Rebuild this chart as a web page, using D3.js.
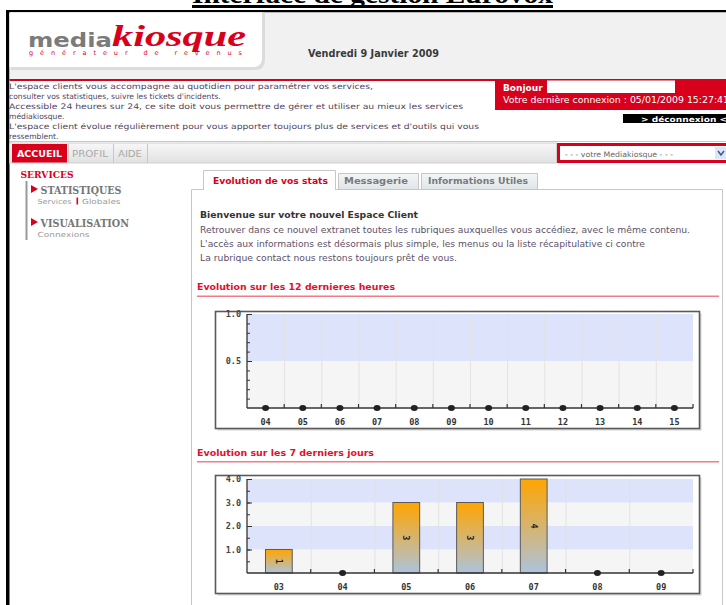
<!DOCTYPE html>
<html>
<head>
<meta charset="utf-8">
<script src="https://cdn.jsdelivr.net/npm/d3@7"></script>
<style>
  body { margin: 0; background: #fff; }
  svg { display: block; }
</style>
</head>
<body>
<script>
// données des graphiques
var hourLabels = ["04","05","06","07","08","09","10","11","12","13","14","15"];
var hourValues = [0,0,0,0,0,0,0,0,0,0,0,0];
var hourTicks = [0.5, 1.0];
var hourMinor = [0.1,0.2,0.3,0.4,0.5,0.6,0.7,0.8,0.9,1.0];

var dayLabels = ["03","04","05","06","07","08","09"];
var dayValues = [1,0,3,3,4,0,0];
var dayTicks = [1,2,3,4];
var dayMinor = [0.5,1,1.5,2,2.5,3,3.5,4];

var introLines = [
  "L'espace clients vous accompagne au quotidien pour paramétrer vos services,",
  "consulter vos statistiques, suivre les tickets d'incidents.",
  "Accessible 24 heures sur 24, ce site doit vous permettre de gérer et utiliser au mieux les services",
  "médiakiosque.",
  "L'espace client évolue régulièrement pour vous apporter toujours plus de services et d'outils qui vous",
  "ressemblent."
];
var welcomeLines = [
  "Retrouver dans ce nouvel extranet toutes les rubriques auxquelles vous accédiez, avec le même contenu.",
  "L'accès aux informations est désormais plus simple, les menus ou la liste récapitulative ci contre",
  "La rubrique contact nous restons toujours prêt de vous."
];

var width = 726, height = 605;
var RED = "#d9001b";
var FONT = "'DejaVu Sans', Verdana, sans-serif";

var svg = d3.select("body").append("svg")
  .attr("width", width)
  .attr("height", height);

var defs = svg.append("defs");
var gHead = defs.append("linearGradient").attr("id", "navgrad").attr("x1",0).attr("y1",0).attr("x2",0).attr("y2",1);
gHead.append("stop").attr("offset","0%").attr("stop-color","#f7f7f7");
gHead.append("stop").attr("offset","100%").attr("stop-color","#e1e1e1");
var gTab = defs.append("linearGradient").attr("id", "tabgrad").attr("x1",0).attr("y1",0).attr("x2",0).attr("y2",1);
gTab.append("stop").attr("offset","0%").attr("stop-color","#f4f6f7");
gTab.append("stop").attr("offset","100%").attr("stop-color","#dfe5e8");
var gBar = defs.append("linearGradient").attr("id", "bargrad").attr("x1",0).attr("y1",0).attr("x2",0).attr("y2",1);
gBar.append("stop").attr("offset","0%").attr("stop-color","#ffa500");
gBar.append("stop").attr("offset","100%").attr("stop-color","#adc3dc");

function txt(x, y, s, size, opts){
  opts = opts || {};
  var t = svg.append("text")
    .attr("x", x).attr("y", y)
    .attr("font-family", opts.family || FONT)
    .attr("font-size", size)
    .attr("font-weight", opts.bold ? "bold" : "normal")
    .attr("fill", opts.fill || "#333")
    .text(s);
  if (opts.w) t.attr("textLength", opts.w).attr("lengthAdjust", "spacingAndGlyphs");
  if (opts.italic) t.attr("font-style", "italic");
  return t;
}

// titre du document (coupé en haut)
txt(372.5, 3, "Interface de gestion Eurovox", 25, {bold:true, fill:"#000", family:"'Liberation Serif', serif", w:361})
  .attr("text-anchor","middle");
svg.append("rect").attr("x",192).attr("y",5).attr("width",361).attr("height",3).attr("fill","#000");

// cadre
svg.append("rect").attr("x",6).attr("y",10).attr("width",720).attr("height",2.5).attr("fill","#000");
svg.append("rect").attr("x",6).attr("y",10).attr("width",3.5).attr("height",595).attr("fill","#000");

// en-tête
svg.append("rect").attr("x",9.5).attr("y",12.5).attr("width",717).attr("height",67).attr("fill","#f1f1f1");
svg.append("path").attr("d","M11,12.5 H265 V60 Q265,70 255,70 H11 Z").attr("fill","#dcdcdc");
svg.append("path").attr("d","M9.5,12.5 H262 V58 Q262,67 253,67 H9.5 Z").attr("fill","#fff");
txt(28, 46.5, "media", 20, {bold:true, fill:"#7b7b7b", w:84});
txt(112, 46, "kiosque", 29, {bold:true, italic:true, fill:RED, family:"'Liberation Serif', serif", w:134});
txt(29, 55, "générateur de revenus", 6.5, {fill:RED, w:213}).attr("lengthAdjust","spacing");
txt(308, 57, "Vendredi 9 Janvier 2009", 10, {bold:true, fill:"#3a3a3a", w:131});

// bandeau d'intro
svg.append("rect").attr("x",9.5).attr("y",79.5).attr("width",717).attr("height",62).attr("fill","#fff");
svg.append("rect").attr("x",9.5).attr("y",79).attr("width",486).attr("height",2).attr("fill",RED);
svg.append("rect").attr("x",9.5).attr("y",141).attr("width",717).attr("height",1).attr("fill","#c8c8c8");
var introW = [364, 0, 454, 0, 470, 0];
introLines.forEach(function(l, i){
  txt(9, 89 + i*10, l, 7.6, {fill:"#4f4560", w: introW[i] || null});
});

// boîte rouge connexion
svg.append("rect").attr("x",495).attr("y",79).attr("width",231).attr("height",31).attr("fill",RED);
txt(503, 91, "Bonjour", 9, {bold:true, fill:"#fff"});
svg.append("rect").attr("x",547).attr("y",80.5).attr("width",128).attr("height",12.5).attr("fill","#fff");
txt(503, 103, "Votre dernière connexion : 05/01/2009 15:27:41", 8, {fill:"#fff", w:226});
svg.append("rect").attr("x",623).attr("y",114).attr("width",103).attr("height",9).attr("fill","#000");
txt(641, 121.5, "> déconnexion <", 7.5, {bold:true, fill:"#fff", w:86});

// barre de navigation
svg.append("rect").attr("x",9.5).attr("y",143).attr("width",547).attr("height",20).attr("fill","url(#navgrad)").attr("stroke","#cfcfcf");
svg.append("rect").attr("x",12).attr("y",144).attr("width",55).attr("height",18.5).attr("fill",RED);
txt(17, 157, "ACCUEIL", 9, {bold:true, fill:"#fff", w:45});
txt(72, 157, "PROFIL", 9, {fill:"#a8a8a8", w:36});
txt(118, 157, "AIDE", 9, {fill:"#a8a8a8", w:24});
[68.5, 113.5, 147.5].forEach(function(x){
  svg.append("line").attr("x1",x).attr("x2",x).attr("y1",144).attr("y2",163).attr("stroke","#c8c8c8");
});
svg.append("rect").attr("x",558.5).attr("y",144.5).attr("width",170).attr("height",17).attr("fill","#fff").attr("stroke",RED).attr("stroke-width",3);
txt(565, 157, "- - - votre Mediakiosque - - -", 7.5, {fill:"#666", w:108});
svg.append("rect").attr("x",715).attr("y",147).attr("width",11).attr("height",12).attr("fill","#dfe6f3");
svg.append("path").attr("d","M718,151 L721,155 L724,151").attr("fill","none").attr("stroke","#3a5a9a").attr("stroke-width",1.5);

// menu latéral
txt(20.5, 178, "SERVICES", 10, {bold:true, fill:RED, family:"'DejaVu Serif', serif", w:53});
svg.append("rect").attr("x",25.5).attr("y",181).attr("width",2).attr("height",59).attr("fill","#9a9a9a");
svg.append("path").attr("d","M31,185 L38,189 L31,193 Z").attr("fill",RED);
txt(40.5, 194, "STATISTIQUES", 11, {bold:true, fill:"#777", family:"'DejaVu Serif', serif", w:81});
txt(37.5, 204, "Services", 7, {fill:"#9a9a9a", w:34});
svg.append("rect").attr("x",76.5).attr("y",197.5).attr("width",1.6).attr("height",7).attr("fill",RED);
txt(82, 204, "Globales", 7, {fill:"#9a9a9a", w:38.5});
svg.append("path").attr("d","M31,218 L38,222 L31,226 Z").attr("fill",RED);
txt(40.5, 227, "VISUALISATION", 11, {bold:true, fill:"#777", family:"'DejaVu Serif', serif", w:88.5});
txt(37.5, 236.5, "Connexions", 7, {fill:"#9a9a9a", w:52});

// panneau à onglets
var panel = svg.append("g").attr("stroke","#c6c6c6").attr("fill","none");
panel.append("path").attr("d","M191.5,605 V189.5 H203.5 M335.5,189.5 H722.5 V605");
svg.append("path").attr("d","M338.5,189.5 V173.5 H418.5 V189.5 Z").attr("fill","url(#tabgrad)").attr("stroke","#c6c6c6");
svg.append("path").attr("d","M421.5,189.5 V173.5 H537.5 V189.5 Z").attr("fill","url(#tabgrad)").attr("stroke","#c6c6c6");
svg.append("path").attr("d","M203.5,190 V170.5 H335.5 V190").attr("fill","#fff").attr("stroke","#c6c6c6");
txt(213, 184, "Evolution de vos stats", 9, {bold:true, fill:RED, w:115});
txt(344, 184, "Messagerie", 9, {bold:true, fill:"#7a7a7a", w:64});
txt(428, 184, "Informations Utiles", 9, {bold:true, fill:"#7a7a7a", w:100});

txt(200, 218, "Bienvenue sur votre nouvel Espace Client", 8.6, {bold:true, fill:"#333", w:218});
var welcomeW = [490, 445, 257];
welcomeLines.forEach(function(l, i){
  txt(200, 233 + i*14, l, 8.6, {fill:"#5d5169", w:welcomeW[i]});
});

function heading(y, s, w){
  txt(197, y, s, 8.8, {bold:true, fill:"#e3102c", w:w});
  svg.append("rect").attr("x",197).attr("y",y+5.5).attr("width",522).attr("height",1.5).attr("fill","#f37a86");
}
heading(290, "Evolution sur les 12 dernieres heures", 198);
heading(455.5, "Evolution sur les 7 derniers jours", 177);

// graphiques
function drawChart(cfg){
  var g = svg.append("g");
  g.append("rect").attr("x",cfg.box[0]+2).attr("y",cfg.box[1]+2).attr("width",cfg.box[2]).attr("height",cfg.box[3]).attr("fill","#d4d4d4");
  g.append("rect").attr("x",cfg.box[0]).attr("y",cfg.box[1]).attr("width",cfg.box[2]).attr("height",cfg.box[3])
    .attr("fill","#fff").attr("stroke","#5a5a5a").attr("stroke-width",1.6);

  var x = d3.scaleBand().domain(cfg.labels).range([cfg.left, cfg.right]).padding(0);
  var y = d3.scaleLinear().domain([0, cfg.max]).range([cfg.bottom, cfg.top]);

  // bandes alternées
  var edges = [0].concat(cfg.ticks);
  for (var i = 0; i < edges.length - 1; i++){
    g.append("rect")
      .attr("x", cfg.left).attr("width", cfg.right - cfg.left)
      .attr("y", y(edges[i+1])).attr("height", y(edges[i]) - y(edges[i+1]))
      .attr("fill", i % 2 === 0 ? "#f5f5f5" : "#dce3fb");
  }
  // grille verticale
  g.selectAll(".vg").data(cfg.labels.slice(1)).enter().append("line")
    .attr("x1", function(d){ return x(d) + 0.5; })
    .attr("x2", function(d){ return x(d) + 0.5; })
    .attr("y1", cfg.top).attr("y2", cfg.bottom)
    .attr("stroke", "#e2e2e2");

  // barres
  var idx = cfg.labels.map(function(d, i){ return i; });
  var bw = x.bandwidth() * 0.42;
  var bars = idx.filter(function(i){ return cfg.values[i] > 0; });
  g.selectAll(".bar").data(bars).enter().append("rect")
    .attr("x", function(i){ return x(cfg.labels[i]) + (x.bandwidth() - bw) / 2; })
    .attr("y", function(i){ return y(cfg.values[i]); })
    .attr("width", bw)
    .attr("height", function(i){ return y(0) - y(cfg.values[i]); })
    .attr("fill", "url(#bargrad)")
    .attr("stroke", "#5a5a5a").attr("stroke-width", 1);
  g.selectAll(".vl").data(bars).enter().append("text")
    .attr("transform", function(i){
      var cx = x(cfg.labels[i]) + x.bandwidth() / 2;
      var cy = (y(cfg.values[i]) + y(0)) / 2;
      return "translate(" + cx + "," + cy + ") rotate(90)";
    })
    .attr("text-anchor", "middle").attr("dy", "0.35em")
    .attr("font-family", "'DejaVu Sans Mono', monospace").attr("font-weight", "bold")
    .attr("font-size", 8.5).attr("fill", "#222")
    .text(function(i){ return cfg.values[i]; });

  // axes
  var yMinor = d3.axisLeft(y).tickValues(cfg.minor).tickSize(-3).tickSizeOuter(0).tickFormat("");
  var gm = g.append("g").attr("transform", "translate(" + cfg.left + ",0)").call(yMinor);
  var yAxis = d3.axisLeft(y).tickValues(cfg.ticks).tickSize(-5).tickSizeOuter(0).tickPadding(6).tickFormat(d3.format(".1f"));
  var ga = g.append("g").attr("transform", "translate(" + cfg.left + ",0)").call(yAxis);
  ga.select(".domain").remove();
  gm.select(".domain").attr("stroke", "#333").attr("stroke-width", 1.3).attr("d", "M0," + cfg.top + "V" + cfg.bottom);
  gm.selectAll(".tick line").attr("stroke", "#333");
  ga.selectAll(".tick line").attr("stroke", "#333");
  ga.selectAll("text").attr("font-family", "'DejaVu Sans Mono', monospace").attr("font-weight", "bold")
    .attr("font-size", 8.5).attr("fill", "#444");

  var xAxis = d3.axisBottom(x).tickSize(0).tickPadding(11);
  var gx = g.append("g").attr("transform", "translate(0," + cfg.bottom + ")").call(xAxis);
  gx.select(".domain").attr("stroke", "#333").attr("stroke-width", 1.3)
    .attr("d", "M" + cfg.left + ",0H" + cfg.right);
  gx.selectAll("text").attr("font-family", "'DejaVu Sans Mono', monospace").attr("font-weight", "bold")
    .attr("font-size", 8.5).attr("fill", "#333");
  var bounds = cfg.labels.map(function(d){ return x(d); }).concat([cfg.right]);
  g.selectAll(".xt").data(bounds.slice(1)).enter().append("line")
    .attr("x1", function(d){ return d; }).attr("x2", function(d){ return d; })
    .attr("y1", cfg.bottom - 4).attr("y2", cfg.bottom)
    .attr("stroke", "#333").attr("stroke-width", 1.2);

  // valeurs nulles en points
  var zeros = idx.filter(function(i){ return cfg.values[i] === 0; });
  g.selectAll(".pt").data(zeros).enter().append("ellipse")
    .attr("cx", function(i){ return x(cfg.labels[i]) + x.bandwidth() / 2; })
    .attr("cy", function(i){ return y(cfg.values[i]); })
    .attr("rx", 3.5).attr("ry", 3)
    .attr("fill", "#222");
}

drawChart({
  box: [215.5, 311.5, 484, 117],
  left: 247, right: 693, top: 314, bottom: 408,
  labels: hourLabels, values: hourValues, max: 1, ticks: hourTicks, minor: hourMinor
});
drawChart({
  box: [215.5, 475.5, 484, 118],
  left: 247, right: 693, top: 479, bottom: 573,
  labels: dayLabels, values: dayValues, max: 4, ticks: dayTicks, minor: dayMinor
});
</script>
</body>
</html>
